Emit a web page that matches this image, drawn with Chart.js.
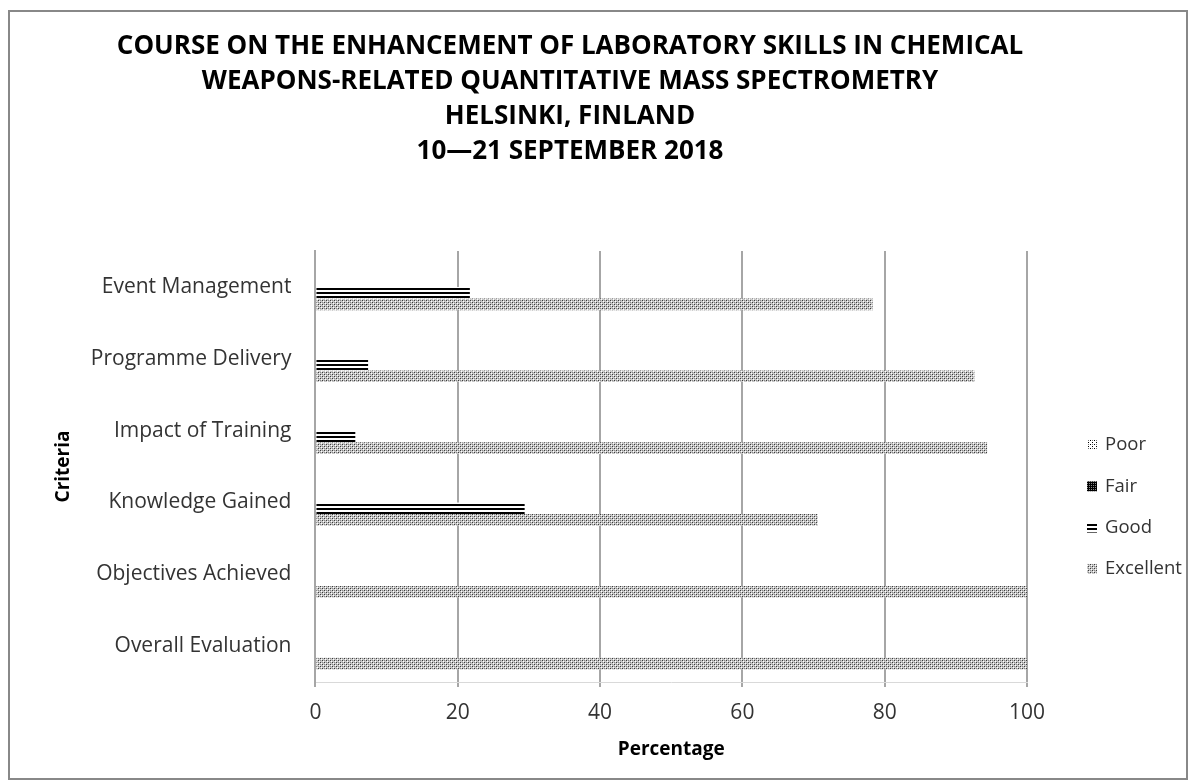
<!DOCTYPE html>
<html>
<head>
<meta charset="utf-8">
<script src="https://cdn.jsdelivr.net/npm/chart.js@4.4.0/dist/chart.umd.min.js"></script>
<style>
  html, body { margin: 0; padding: 0; background: #fff; }
  #wrap {
    position: absolute; left: 8px; top: 10px; width: 1180px; height: 770px;
    border: 2px solid #888; box-sizing: border-box;
  }
</style>
</head>
<body>
<div id="wrap"><canvas id="chart"></canvas></div>
<script>
const categories = ['Event Management', 'Programme Delivery', 'Impact of Training',
  'Knowledge Gained', 'Objectives Achieved', 'Overall Evaluation'];
const poor = [0, 0, 0, 0, 0, 0];
const fair = [0, 0, 0, 0, 0, 0];
const good = [21.7, 7.4, 5.6, 29.4, 0, 0];
const excellent = [78.3, 92.6, 94.4, 70.6, 100, 100];
const xTicks = [0, 20, 40, 60, 80, 100];
const titleLines = ['COURSE ON THE ENHANCEMENT OF LABORATORY SKILLS IN CHEMICAL',
  'WEAPONS-RELATED QUANTITATIVE MASS SPECTROMETRY',
  'HELSINKI, FINLAND',
  '10\u201421 SEPTEMBER 2018'];

// small bitmap fills to imitate the hatched bars
function makePattern(w, h, draw) {
  const c = document.createElement('canvas');
  c.width = w; c.height = h;
  const g = c.getContext('2d');
  draw(g);
  return g.createPattern(c, 'repeat');
}
const ctxMain = document.getElementById('chart').getContext('2d');

const excellentFill = makePattern(4, 4, g => {
  g.fillStyle = '#c8c8c8'; g.fillRect(0, 0, 4, 4);
  g.fillStyle = '#3a3a3a';
  g.fillRect(0, 0, 1, 1); g.fillRect(2, 2, 1, 1);
  g.fillStyle = '#888';
  g.fillRect(2, 0, 1, 1); g.fillRect(0, 2, 1, 1);
  g.fillStyle = '#fff';
  g.fillRect(1, 1, 1, 1); g.fillRect(3, 3, 1, 1);
});
const goodFill = makePattern(4, 4, g => {
  g.fillStyle = '#fff'; g.fillRect(0, 0, 4, 4);
  g.fillStyle = '#000'; g.fillRect(0, 0, 4, 2);
});
const fairFill = makePattern(2, 2, g => {
  g.fillStyle = '#000'; g.fillRect(0, 0, 2, 2);
  g.fillStyle = '#888'; g.fillRect(1, 1, 1, 1);
});
const poorFill = makePattern(4, 4, g => {
  g.fillStyle = '#fff'; g.fillRect(0, 0, 4, 4);
  g.fillStyle = '#000'; g.fillRect(0, 0, 1, 1); g.fillRect(2, 2, 1, 1);
  g.fillStyle = '#777'; g.fillRect(2, 0, 1, 1);
});

const FONT = "'Open Sans', sans-serif";

// title + legend drawn by hand so they sit where the Excel original has them
const extras = {
  id: 'extras',
  afterDraw(chart) {
    const g = chart.ctx;
    g.save();
    g.fillStyle = '#000';
    g.font = "bold 26px 'Open Sans', sans-serif";
    g.textAlign = 'center';
    g.textBaseline = 'middle';
    titleLines.forEach((t, i) => g.fillText(t, 560, 35 + i * 35));

    const x = chart.chartArea.right + 60;
    let y = 433;
    g.textAlign = 'left';
    g.font = "18.5px 'Open Sans', sans-serif";
    chart.data.datasets.forEach(ds => {
      g.fillStyle = ds.backgroundColor;
      g.fillRect(x, y - 5, 10, 10);
      g.fillStyle = '#333';
      g.fillText(ds.label, x + 18, y);
      y += 41.3;
    });
    g.restore();
  }
};

new Chart(ctxMain, {
  type: 'bar',
  data: {
    labels: categories,
    datasets: [
      { label: 'Poor', data: poor, backgroundColor: poorFill },
      { label: 'Fair', data: fair, backgroundColor: fairFill },
      { label: 'Good', data: good, backgroundColor: goodFill },
      { label: 'Excellent', data: excellent, backgroundColor: excellentFill }
    ]
  },
  plugins: [extras],
  options: {
    indexAxis: 'y',
    responsive: true,
    maintainAspectRatio: false,
    animation: false,
    categoryPercentage: 0.65,
    barPercentage: 1.0,
    layout: { padding: { left: 38, right: 159, top: 239, bottom: 13 } },
    plugins: {
      title: { display: false },
      legend: { display: false },
      tooltip: { enabled: false }
    },
    scales: {
      x: {
        min: 0, max: 100,
        afterBuildTicks: axis => { axis.ticks = xTicks.map(v => ({ value: v })); },
        grid: { color: '#a6a6a6', lineWidth: 2, tickLength: 5, drawTicks: true },
        border: { color: '#d9d9d9', width: 1 },
        ticks: { color: '#333', font: { family: FONT, size: 21 }, padding: 13 },
        title: {
          display: true, text: 'Percentage', color: '#000',
          font: { family: FONT, size: 19, weight: 'bold' }, padding: { top: 0 }
        }
      },
      y: {
        grid: { display: false },
        border: { color: '#a6a6a6', width: 2 },
        ticks: { color: '#333', font: { family: FONT, size: 21 }, padding: 16 },
        title: {
          display: true, text: 'Criteria', color: '#000',
          font: { family: FONT, size: 19, weight: 'bold' }, padding: { bottom: 0 }
        }
      }
    }
  }
});
</script>
</body>
</html>
